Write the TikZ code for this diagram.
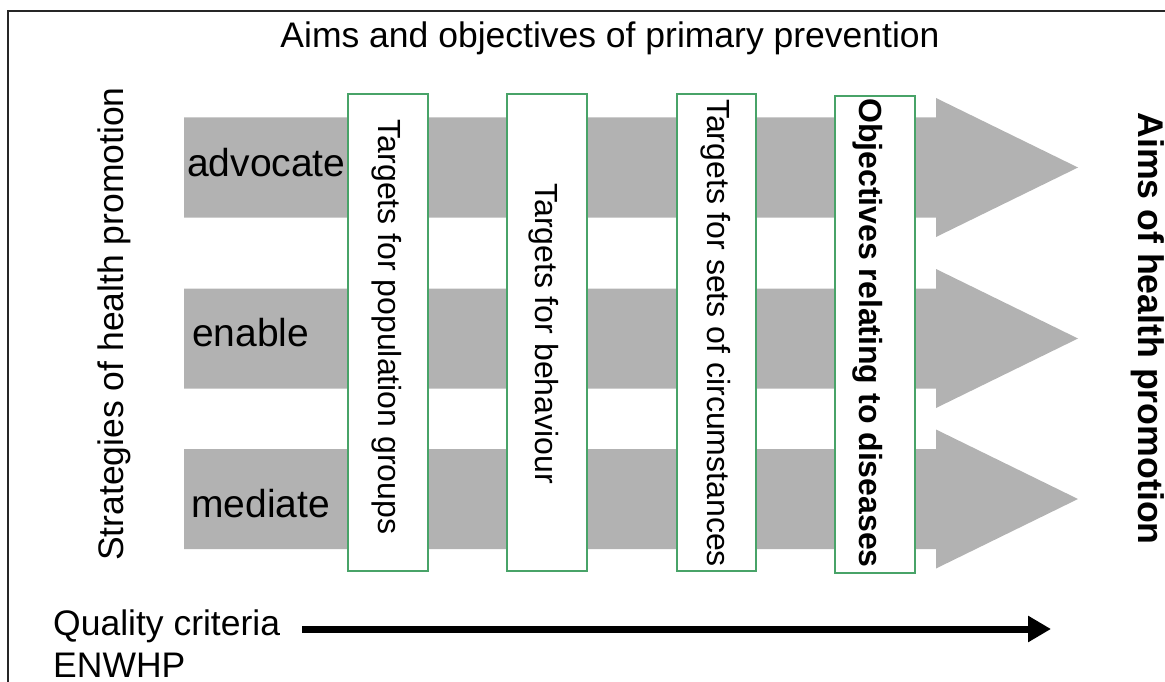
\documentclass[tikz,border=0pt]{standalone}
\usepackage{fontspec}
\setmainfont{Liberation Sans}
\usetikzlibrary{arrows.meta}
\definecolor{arrgray}{RGB}{178,178,178}
\definecolor{boxgreen}{RGB}{72,163,104}
\begin{document}
\begin{tikzpicture}[x=1pt,y=-1pt,
  tbox/.style={draw=boxgreen, fill=white, line width=1.3pt, inner sep=0},
  vtxt/.style={inner sep=0, rotate=-90, anchor=base, font=\fontsize{32}{36}\selectfont},
  rowlbl/.style={inner sep=0, anchor=base west, font=\fontsize{39}{42}\selectfont},
  plain/.style={inner sep=0, font=\fontsize{35.5}{40}\selectfont},
  bigarrow/.style={fill=arrgray, draw=none}
]
\useasboundingbox (0,0) rectangle (1165,682);
\draw[line width=1.5pt, black!85] (8,11) rectangle (1200,720);

% title
\node[plain, anchor=base] (title) at (610,48) {Aims and objectives of primary prevention};

% big grey arrows
\foreach \c in {167.5,338.5,499}{
  \path[bigarrow] (184,\c-50) -- (936,\c-50) -- (936,\c-69.5) -- (1078,\c)
     -- (936,\c+69.5) -- (936,\c+50) -- (184,\c+50) -- cycle;
}

% row labels
\node[rowlbl] (advocate) at (187,177) {advocate};
\node[rowlbl] (enable) at (192,346) {enable};
\node[rowlbl] (mediate) at (191,517) {mediate};

% boxes
\node[tbox, minimum width=80pt, minimum height=477pt] (box1) at (388,332.5) {};
\node[tbox, minimum width=80pt, minimum height=477pt] (box2) at (547,332.5) {};
\node[tbox, minimum width=79pt, minimum height=477pt] (box3) at (716.5,332.5) {};
\node[tbox, minimum width=80pt, minimum height=477pt] (box4) at (875,334.5) {};

\node[vtxt] (t1) at (378,327) {Targets for population groups};
\node[vtxt] (t2) at (535,333.5) {Targets for behaviour};
\node[vtxt] (t3) at (707,333) {Targets for sets of circumstances};
\node[vtxt, font=\fontsize{32}{36}\selectfont\bfseries] (t4) at (859,333) {Objectives relating to diseases};

% side labels
\node[plain, rotate=90, anchor=base] (strat) at (123,324) {Strategies of health promotion};
\node[plain, rotate=-90, anchor=base, font=\fontsize{35.7}{40}\selectfont\bfseries] (aims) at (1138,328.5) {Aims of health promotion};

% quality criteria
\node[plain, anchor=base west] (qual) at (53,635) {Quality criteria};
\node[plain, anchor=base west] (enwhp) at (53,677) {ENWHP};
\coordinate (qs) at (302,629);
\coordinate (qe) at (1051,629);
\draw[line width=7pt, -{Triangle[length=23pt,width=25pt]}] (qs) -- (qe);
\end{tikzpicture}
\end{document}
